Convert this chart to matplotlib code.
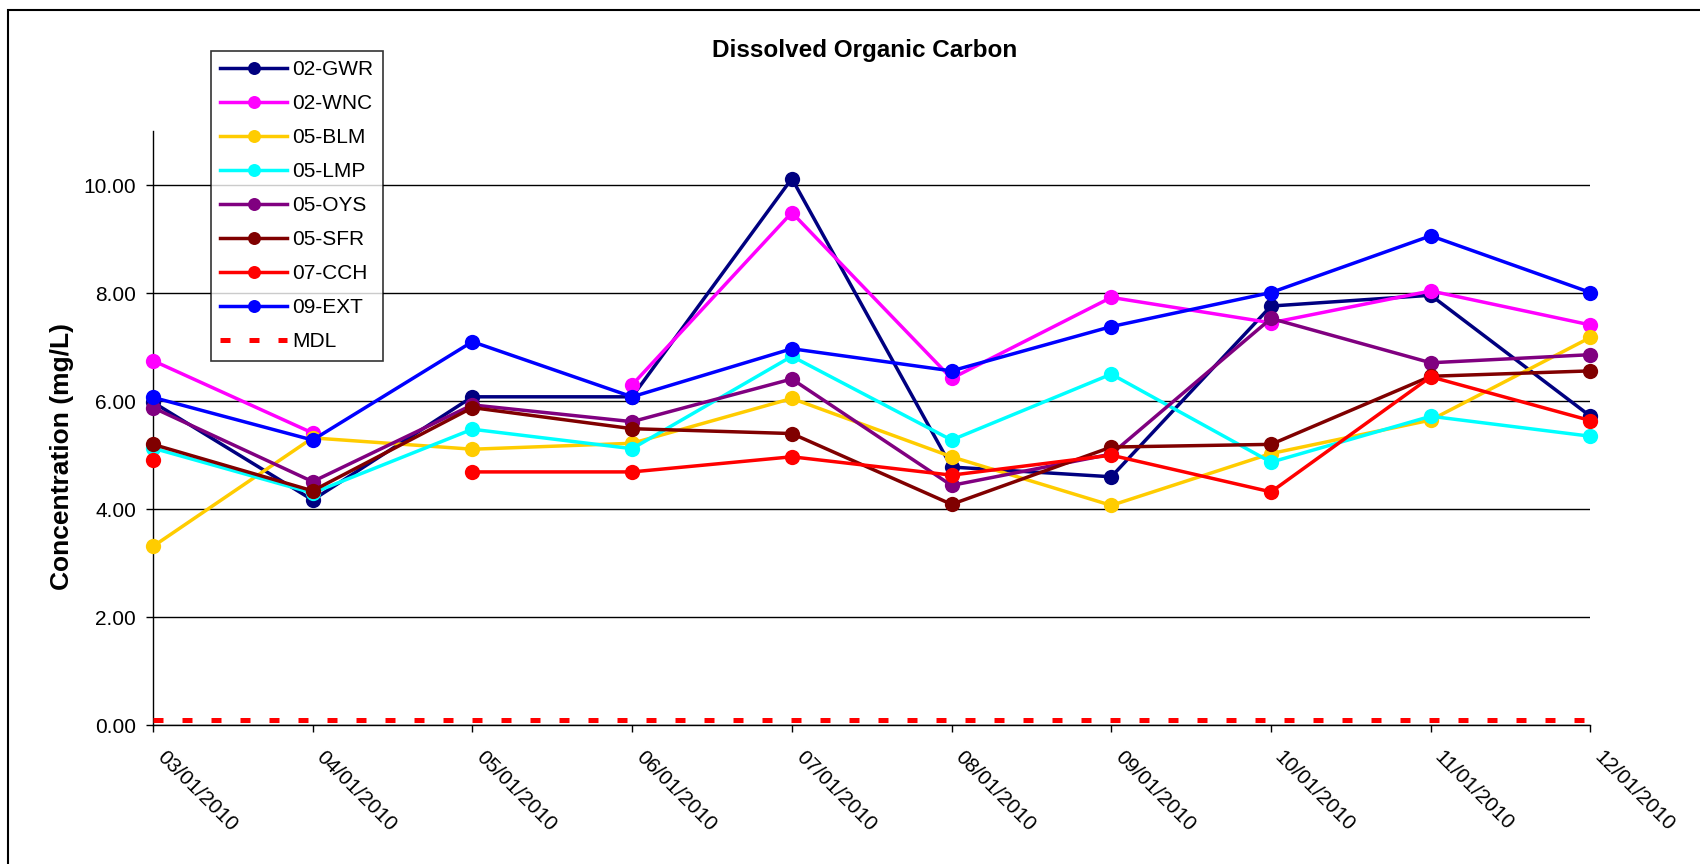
import numpy as np
import matplotlib
matplotlib.use("Agg")
import matplotlib.pyplot as plt
from matplotlib.patches import Rectangle

plt.rcParams['font.family'] = ['Liberation Sans', 'DejaVu Sans']

# -----------------------------------------
# Data (mg/L)
# -----------------------------------------
dates = ['03/01/2010', '04/01/2010', '05/01/2010', '06/01/2010', '07/01/2010',
         '08/01/2010', '09/01/2010', '10/01/2010', '11/01/2010', '12/01/2010']

gwr = [5.98, 4.17, 6.08, 6.08, 10.12, 4.78, 4.60, 7.76, 7.96, 5.72]
wnc = [6.75, 5.41, np.nan, 6.30, 9.49, 6.42, 7.92, 7.45, 8.04, 7.41]
blm = [3.31, 5.32, 5.11, 5.22, 6.05, 4.97, 4.07, 5.03, 5.65, 7.18]
lmp = [5.13, 4.30, 5.48, 5.12, 6.83, 5.28, 6.50, 4.87, 5.72, 5.35]
oys = [5.88, 4.51, 5.93, 5.62, 6.41, 4.44, 5.02, 7.53, 6.71, 6.86]
sfr = [5.20, 4.34, 5.88, 5.49, 5.40, 4.09, 5.15, 5.20, 6.46, 6.56]
cch = [4.91, np.nan, 4.69, 4.69, 4.97, 4.63, 5.00, 4.32, 6.45, 5.64]
ext = [6.07, 5.28, 7.10, 6.08, 6.97, 6.56, 7.38, 8.01, 9.06, 8.01]
mdl = [0.1, 0.1, 0.1, 0.1, 0.1, 0.1, 0.1, 0.1, 0.1, 0.1]

series = [
    ("02-GWR", gwr, "#000080"),
    ("02-WNC", wnc, "#FF00FF"),
    ("05-BLM", blm, "#FFCC00"),
    ("05-LMP", lmp, "#00FFFF"),
    ("05-OYS", oys, "#800080"),
    ("05-SFR", sfr, "#800000"),
    ("07-CCH", cch, "#FF0000"),
    ("09-EXT", ext, "#0000FF"),
]

# -----------------------------------------
# Figure
# -----------------------------------------
W, H = 1700, 864
fig = plt.figure(figsize=(W / 100, H / 100), dpi=100)
ax = fig.add_axes([152.9 / W, 1 - 725.3 / H, (1590.5 - 152.9) / W, (725.3 - 131) / H])

x = np.arange(len(dates))
for name, vals, col in series:
    ax.plot(x, vals, color=col, lw=2.5, marker='o', markersize=11,
            markeredgewidth=0, label=name, clip_on=False, zorder=3)

# method detection limit
ax.plot(x, mdl, color='red', lw=3.6, linestyle=(0, (2.0, 3.8)),
        dash_capstyle='butt', label='MDL', zorder=4)

ax.set_xlim(0, len(dates) - 1)
ax.set_ylim(0, 11)
ax.set_yticks([0, 2, 4, 6, 8, 10])
ax.set_yticklabels(["%.2f" % v for v in [0, 2, 4, 6, 8, 10]])
ax.set_xticks(x)
ax.set_xticklabels(dates, rotation=-45, ha='left', va='top')

ax.tick_params(axis='both', direction='out', length=5, width=1, labelsize=15, colors='black')
ax.tick_params(axis='y', pad=7)
ax.tick_params(axis='x', pad=11)

ax.yaxis.grid(True, color='black', lw=1)
ax.set_axisbelow(True)
for s in ['top', 'right']:
    ax.spines[s].set_visible(False)
for s in ['left', 'bottom']:
    ax.spines[s].set_linewidth(1)
    ax.spines[s].set_color('black')

# titles
fig.text(865 / W, 1 - 51 / H, "Dissolved Organic Carbon", ha='center', va='center',
         fontsize=17.5, fontweight='bold')
fig.text(62 / W, 1 - 457 / H, "Concentration (mg/L)", ha='center', va='center',
         rotation=90, fontsize=19, fontweight='bold')

# legend
leg = ax.legend(loc='upper left', bbox_to_anchor=(211 / W, 1 - 51 / H),
                bbox_transform=fig.transFigure, borderaxespad=0, fontsize=15,
                frameon=True, fancybox=False, edgecolor='black', handlelength=3.2,
                handletextpad=0.25, labelspacing=0.72, borderpad=0.45, markerscale=0.85)
leg.get_frame().set_linewidth(1.2)

# outer chart frame
fig.patches.append(Rectangle((8 / W, -0.05), 1.1, 1 - 10 / H + 0.05, transform=fig.transFigure,
                             fill=False, edgecolor='black', lw=1.5, clip_on=False))

fig.savefig("out.png", dpi=100)
